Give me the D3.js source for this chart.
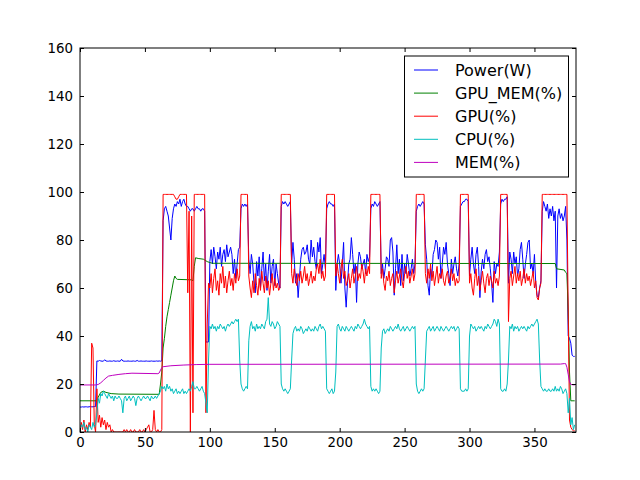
<!DOCTYPE html>
<html>
<head>
<meta charset="utf-8">
<script src="https://cdn.jsdelivr.net/npm/d3@7/dist/d3.min.js"></script>
<style>
  body { margin: 0; background: #fff; }
  text { font-family: "DejaVu Sans", sans-serif; }
</style>
</head>
<body>
<div id="chart"></div>
<script>
// sampled once per step, x = index
var power = [
  10.4,10.4,10.5,10.4,10.5,10.5,10.4,10.5,10.6,10.5,10.5,10.6,10.6,
  29.6,29.5,29.8,29.6,29.5,29.5,30.1,29.6,29.5,29.5,29.6,29.5,29.5,29.7,29.5,29.5,29.6,29.5,29.5,30.3,
  29.6,29.5,29.5,29.5,29.6,29.5,29.5,29.5,29.6,29.5,29.5,29.8,29.5,29.5,29.6,29.5,29.5,29.5,29.6,29.5,
  29.5,29.5,29.6,29.5,29.5,29.5,29.6,29.5,29.6,29.5,29.6,
  88,93,94,92,90,85,80,89,93,95,94,96,95,97,94,96,97,95,94,
  94,93,92,93,93,92,
  93,94,93,93,92,93,93,92,
  37.5,37.5,37.5,
  71,76,70,77,73,68,75,72,77,69,74,76,71,78,73,75,77,74,66,72,64,70,76,77,
  93,95,94,95,94,95,
  72,66,74,70,62,58,71,65,73,60,68,75,63,70,59,67,74,62,69,72,61,70,66,62,60,
  94,96,95,96,95,94,95,96,
  70,79,72,62,66,56,64,72,76,77,74,75,78,72,70,80,73,77,71,68,79,75,81,66,70,74,68,
  93,95,96,95,95,94,95,
  59,70,74,70,62,70,79,60,52,62,70,72,81,74,66,70,54,70,75,73,68,70,72,66,74,71,73,
  93,95,94,96,95,94,95,96,
  66,70,64,68,73,72,69,80,81,75,57,68,78,66,72,61,74,63,70,66,74,70,65,68,72,66,70,
  92,94,95,94,95,96,95,
  78,72,61,57,68,65,74,76,80,79,72,77,64,70,77,74,79,70,66,61,72,66,70,73,68,65,70,
  94,95,96,96,97,97,96,
  65,72,77,70,66,74,77,69,56,67,72,68,74,76,71,73,68,62,54,71,66,70,69,75,
  95,97,96,97,97,98,
  62,75,72,66,75,70,73,65,68,76,79,72,64,70,74,79,80,68,70,66,74,62,57,56,60,63,
  92,96,94,92,95,89,93,90,94,88,92,60,90,93,89,91,88,90,94,
  80,40,39,37,32,31.5,31.5
];

var gpu = [
  0,4,1,5,0,3,1,4,2,37,35,3,0,
  18,4,7,2,6,3,5,1,4,2,3,0,1,0,0,0,0,0,0,0,0,1,0,1,0,0,1,0,0,1,0,
  0,0,1,0,0,1,0,1,2,3,0,0,1,9,1,0,1,0,0,1,
  99,99,99,99,99,99,99,99,99,98,97,97,98,99,99,99,99,99,99,
  58,92,0,90,8,99,
  99,99,99,99,99,99,99,99,
  8,45,62,
  60,66,58,64,68,59,63,57,66,62,69,60,65,58,63,67,61,64,59,66,62,68,63,65,
  99,99,99,99,99,99,
  65,60,56,63,58,66,61,57,64,59,67,62,58,65,60,63,57,62,66,59,64,60,62,59,60,
  99,99,99,99,99,99,99,99,
  66,62,68,64,61,66,63,67,62,65,69,63,66,61,64,67,62,65,63,68,70,66,72,64,67,63,65,
  99,99,99,99,99,99,99,
  65,70,66,62,68,72,64,67,61,63,66,60,64,68,62,65,69,63,66,64,70,67,62,68,65,69,66,
  99,99,99,99,99,99,99,99,
  64,68,62,59,65,63,67,61,64,66,58,63,67,62,65,68,63,60,66,69,64,67,62,65,68,63,66,
  99,99,99,99,99,99,99,
  66,62,68,64,70,63,67,61,65,69,62,66,64,68,63,61,65,67,62,64,68,63,66,61,64,62,63,
  99,99,99,99,99,99,99,
  62,66,60,57,64,68,61,65,59,63,67,62,58,64,66,61,65,63,60,67,62,64,61,65,
  99,99,99,99,99,99,
  46,64,67,61,65,69,62,66,63,67,61,64,68,62,66,63,65,61,64,67,60,63,56,55,60,62,
  99,99,99,99,99,99,99,99,99,99,99,99,99,99,99,99,99,99,99,
  99,50,5,2,1,0.5,0.5
];

var cpu = [
  1,3,2,4,1,2,0,3,2,1,4,2,3,
  8,14,12,16,15,17,16,15,14,16,15,14,15,13,15,14,14,15,14,13,
  8,14,15,13,14,15,13,14,15,14,11,14,15,14,13,14,15,14,14,15,
  14,13,15,14,14,15,14,15,16,17,19,
  18,19,17,20,18,19,17,18,16,17,18,16,17,16,17,18,16,17,16,
  17,18,17,19,21,18,
  18,19,18,17,18,19,17,16,
  12,8,30,
  44,43,45,43,44,42,44,43,45,44,43,44,42,44,45,44,45,46,45,46,47,46,47,30,
  20,18,17,18,19,18,
  38,44,46,43,44,42,45,43,44,43,45,44,43,46,47,56,45,44,46,45,43,44,46,45,44,
  20,18,17,18,17,16,17,18,
  30,41,43,44,42,43,42,44,43,41,42,43,42,44,43,42,43,42,44,43,42,44,45,43,44,43,42,
  18,17,16,17,18,16,17,
  25,44,45,43,42,44,43,42,44,43,42,43,44,43,42,44,43,45,44,43,44,45,47,45,44,43,44,
  19,17,18,17,18,17,16,17,
  35,42,43,41,42,43,42,44,43,42,43,44,43,45,43,42,43,44,42,43,44,43,42,43,44,43,44,
  20,17,16,17,18,17,18,
  30,42,43,44,42,43,44,42,43,44,43,42,44,43,42,43,44,43,42,43,44,43,44,42,43,44,43,
  18,17,17,17,18,17,18,
  40,45,44,43,44,42,43,44,43,44,43,42,44,43,45,44,43,44,45,47,46,44,47,45,
  18,17,17,18,17,20,
  30,44,43,45,42,44,43,44,42,43,44,43,44,43,42,44,43,44,45,44,45,46,47,45,30,19,
  18,17,18,17,17,18,17,17,18,17,19,17,18,17,19,18,16,17,18,
  16,8,14,3,6,1,3
];

// these two barely move, so only the corners: [x, value]
var gpuMem = [
  [0,13],[13,13],[14,14.5],[16,16.5],[18,17],[20,16.5],[24,16],[30,15.8],[61,15.7],
  [62,20],[63,25],[64,35],[65,39],[66,44],[67,48],[68,51],[69,54],[70,57],[71,60],
  [72,63],[73,65],[74,64],[75,63.6],[86,63.4],[87,63],[88,69],[89,72.6],[91,72.3],
  [95,72],[98,71],[100,70.6],[102,70.3],[366,70.2],[367,68],[373,67.5],[374,66.5],
  [375,66],[376,50],[377,25],[378,13],[381,13]
];

var mem = [
  [0,19.6],[12,19.6],[14,19.8],[16,20.5],[18,21.5],[20,22.5],[22,23.3],[25,23.6],
  [30,24],[35,24.3],[40,24.5],[60,24.3],[61,24.6],[62,25.8],[63,26.8],[64,27.2],
  [70,27.6],[80,27.9],[90,28.1],[100,28.2],[370,28.3],[373,28.5],[374,28.5],
  [375,27],[376,24],[377,21],[378,19.8],[381,19.6]
];

var names = ["Power(W)", "GPU_MEM(%)", "GPU(%)", "CPU(%)", "MEM(%)"];
var colors = ["#0000ff", "#008000", "#ff0000", "#00bfbf", "#bf00bf"];
var xTicks = [0, 50, 100, 150, 200, 250, 300, 350];
var yTicks = [0, 20, 40, 60, 80, 100, 120, 140, 160];

var margin = {top: 48, right: 64, bottom: 48, left: 80},
    width = 640 - margin.left - margin.right,
    height = 480 - margin.top - margin.bottom;

var x = d3.scaleLinear().domain([0, 382]).range([0, width]);
var y = d3.scaleLinear().domain([0, 160]).range([height, 0]);

var svg = d3.select("#chart").append("svg")
    .attr("width", 640)
    .attr("height", 480)
  .append("g")
    .attr("transform", "translate(" + margin.left + "," + margin.top + ")");

svg.append("clipPath").attr("id", "clip")
  .append("rect").attr("width", width).attr("height", height);

var byIndex = d3.line().x(function(d, i) { return x(i); }).y(function(d) { return y(d); });
var byPair = d3.line().x(function(d) { return x(d[0]); }).y(function(d) { return y(d[1]); });

var series = [
  {data: power, line: byIndex},
  {data: gpuMem, line: byPair},
  {data: gpu, line: byIndex},
  {data: cpu, line: byIndex},
  {data: mem, line: byPair}
];

var plot = svg.append("g").attr("clip-path", "url(#clip)");
series.forEach(function(s, i) {
  plot.append("path")
    .attr("d", s.line(s.data))
    .attr("fill", "none")
    .attr("stroke", colors[i])
    .attr("stroke-width", 1);
});

// axes, ticks pointing in on all four sides
function style(g) {
  g.select(".domain").remove();
  g.selectAll(".tick line").attr("stroke", "#000");
  g.selectAll(".tick text").attr("fill", "#000")
    .style("font-size", "13.33px").style("font-family", "DejaVu Sans");
}

svg.append("g")
  .attr("transform", "translate(0," + height + ")")
  .call(d3.axisBottom(x).tickValues(xTicks).tickSizeInner(-4).tickSizeOuter(0).tickPadding(6))
  .call(style);
svg.append("g")
  .call(d3.axisLeft(y).tickValues(yTicks).tickSizeInner(-4).tickSizeOuter(0).tickPadding(7))
  .call(style);
svg.append("g")
  .call(d3.axisTop(x).tickValues(xTicks).tickSizeInner(-4).tickSizeOuter(0).tickFormat(""))
  .call(style);
svg.append("g")
  .attr("transform", "translate(" + width + ",0)")
  .call(d3.axisRight(y).tickValues(yTicks).tickSizeInner(-4).tickSizeOuter(0).tickFormat(""))
  .call(style);

svg.append("rect")
  .attr("x", 0).attr("y", 0)
  .attr("width", width).attr("height", height)
  .attr("fill", "none").attr("stroke", "#000").attr("stroke-width", 1);

// legend
var legend = svg.append("g").attr("transform", "translate(324.5,8)");
legend.append("rect")
  .attr("width", 164).attr("height", 121)
  .attr("fill", "#fff").attr("stroke", "#000").attr("stroke-width", 1);
names.forEach(function(n, i) {
  var yy = 14 + i * 23.1;
  legend.append("line")
    .attr("x1", 9.5).attr("x2", 33.5)
    .attr("y1", yy).attr("y2", yy)
    .attr("stroke", colors[i]).attr("stroke-width", 1);
  legend.append("text")
    .attr("x", 50.5).attr("y", yy).attr("dy", "0.36em")
    .style("font-size", "16px")
    .text(n);
});
</script>
</body>
</html>
